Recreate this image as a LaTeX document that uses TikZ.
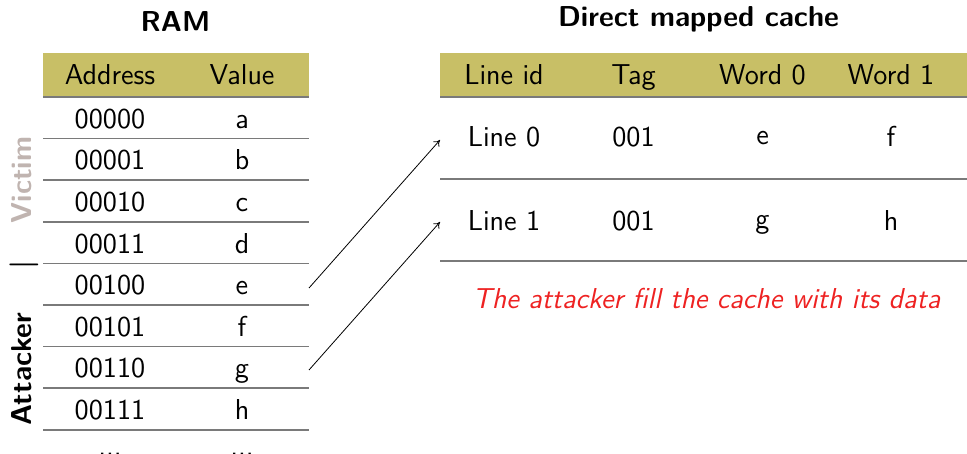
\documentclass[tikz,border=0pt]{standalone}
\usetikzlibrary{arrows.meta}
\definecolor{headfill}{HTML}{C8BF66}
\definecolor{rulegray}{HTML}{7A7A7A}
\definecolor{victimgray}{HTML}{C0B4B0}
\definecolor{alertred}{HTML}{EE2222}
\begin{document}
\begin{tikzpicture}[x=0.5pt,y=-0.5pt,
  every node/.style={font=\sffamily\fontsize{14.4}{17}\selectfont, inner sep=0pt},
  cell/.style={anchor=base},
  title/.style={anchor=base, font=\sffamily\bfseries\fontsize{14.4}{17}\selectfont},
  side/.style={anchor=base, rotate=90, font=\sffamily\bfseries\fontsize{14.4}{17}\selectfont},
  tablerule/.style={draw=rulegray, line width=0.75pt},
  fillarrow/.style={-{To[length=3pt,width=4pt]}, line width=0.4pt}]
\useasboundingbox (0,0) rectangle (967,454);

% titles
\node[title] (ramtitle) at (175.5,32) {RAM};
\node[title] (cachetitle) at (698.5,27) {Direct mapped cache};

% RAM table
\fill[headfill] (43,53) rectangle (309,97);
\node[cell] (hAddr) at (110,85) {Address};
\node[cell] (hVal) at (242,85) {Value};
\foreach \i/\a/\v in {0/00000/a,1/00001/b,2/00010/c,3/00011/d,4/00100/e,5/00101/f,6/00110/g,7/00111/h}{
  \node[cell] (addr\i) at (110,{128.3+41.6*\i}) {\a};
  \node[cell] (val\i) at (242,{128.3+41.6*\i}) {\v};
}
\foreach \i in {0,...,8}{
  \draw[tablerule] (43,{97+41.6*\i}) -- (309,{97+41.6*\i});
}
\node[cell] (addrdots) at (110,455) {...};
\node[cell] (valdots) at (242,455) {...};

% owner labels
\node[side, text=victimgray] (victim) at (32,180) {Victim};
\node[side] (sep) at (32,265) {|};
\node[side] (attacker) at (32,369) {Attacker};

% cache table
\fill[headfill] (440,53) rectangle (967,97);
\node[cell] (hLine) at (504,85) {Line id};
\node[cell] (hTag) at (633.5,85) {Tag};
\node[cell] (hW0) at (762.5,85) {Word 0};
\node[cell] (hW1) at (891,85) {Word 1};
\node[cell] (line0) at (504,147) {Line 0};
\node[cell] (tag0) at (633.5,147) {001};
\node[cell] (w00) at (762.5,145) {e};
\node[cell] (w01) at (891,147) {f};
\node[cell] (line1) at (504,230) {Line 1};
\node[cell] (tag1) at (633.5,230) {001};
\node[cell] (w10) at (762.5,228) {g};
\node[cell] (w11) at (891,230) {h};
\foreach \y in {97,179,261}{
  \draw[tablerule] (440,\y) -- (967,\y);
}

\node[cell, text=alertred, font=\sffamily\itshape\fontsize{14.4}{17}\selectfont] (note) at (706.5,308) {The attacker fill the cache with its data};

% loads from RAM into the cache lines
\coordinate (fromE) at (309,288);
\coordinate (fromG) at (309,370);
\coordinate (toL0) at (440,140);
\coordinate (toL1) at (440,222);
\draw[fillarrow] (fromE) -- (toL0);
\draw[fillarrow] (fromG) -- (toL1);
\end{tikzpicture}
\end{document}
